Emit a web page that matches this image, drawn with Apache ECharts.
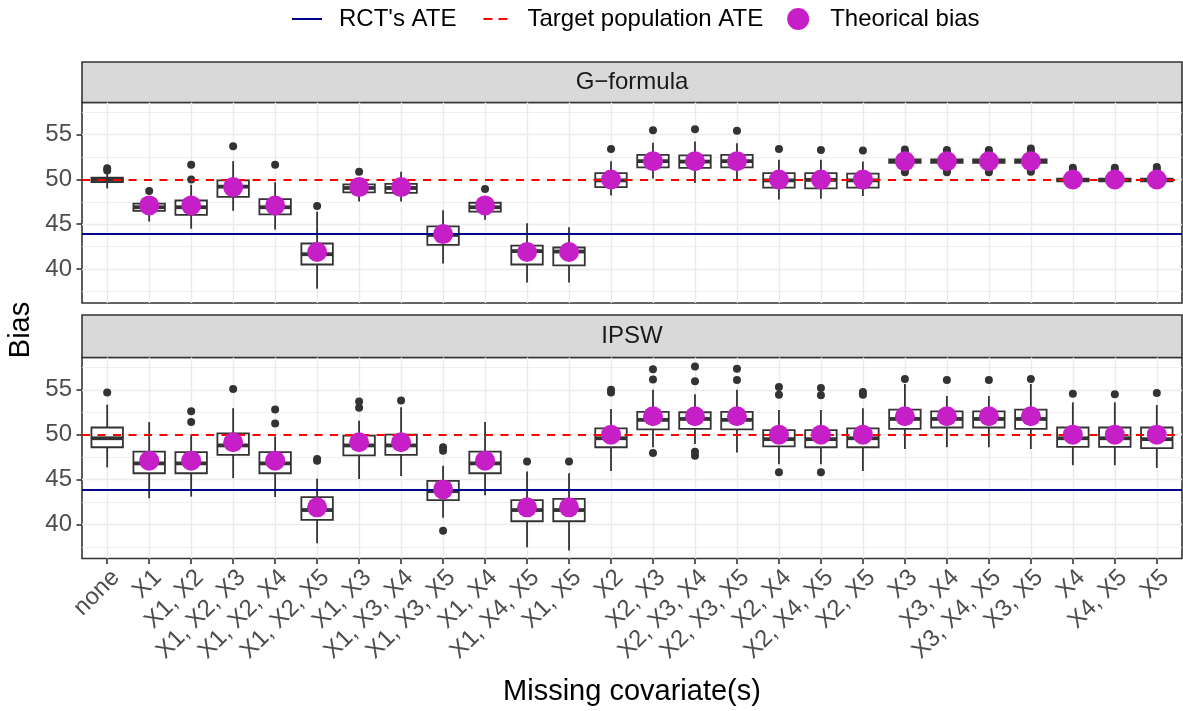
<!DOCTYPE html>
<html><head><meta charset="utf-8">
<script src="https://cdn.jsdelivr.net/npm/echarts@6/dist/echarts.min.js"></script>
<style>html,body{margin:0;padding:0;background:#fff}#c{width:1183px;height:711px}</style>
</head><body><div id="c"></div><script>
const categories = ['none','X1','X1, X2','X1, X2, X3','X1, X2, X4','X1, X2, X5','X1, X3','X1, X3, X4','X1, X3, X5','X1, X4','X1, X4, X5','X1, X5','X2','X2, X3','X2, X3, X4','X2, X3, X5','X2, X4','X2, X4, X5','X2, X5','X3','X3, X4','X3, X4, X5','X3, X5','X4','X4, X5','X5'];
const theoreticalBias = [null,47.1,47.1,49.15,47.1,41.9,49.15,49.15,43.9,47.1,41.9,41.9,50,52.05,52.05,52.05,50,50,50,52.05,52.05,52.05,52.05,50,50,50];
// [low whisker, q1, median, q3, high whisker]
const gformulaBox = [
  [49.0,49.7,49.95,50.2,50.7],[45.3,46.5,46.9,47.3,48.1],[44.5,46.05,46.9,47.65,49.4],[46.5,48.05,49.2,49.9,52.05],
  [44.4,46.1,46.9,47.8,49.7],[37.8,40.5,41.65,42.85,46.4],[47.55,48.55,49.05,49.45,50.2],[47.55,48.5,49.05,49.5,50.85],
  [40.6,42.7,43.8,44.75,46.55],[45.5,46.4,46.9,47.4,48.1],[38.5,40.5,42.0,42.6,45.1],[38.5,40.4,41.95,42.4,44.65],
  [48.2,49.15,49.9,50.7,52.05],[50.1,51.35,52.05,52.75,54.1],[49.6,51.3,52.0,52.7,54.25],[50.0,51.35,52.05,52.75,54.05],
  [47.75,49.1,49.9,50.7,52.2],[47.85,49.0,49.95,50.7,52.2],[48.15,49.1,49.9,50.65,52.0],
  [51.4,51.85,52.05,52.25,52.7],[51.4,51.85,52.05,52.25,52.7],[51.4,51.85,52.05,52.25,52.7],[51.4,51.85,52.05,52.25,52.75],
  [49.65,49.8,49.95,50.1,50.35],[49.65,49.8,49.95,50.1,50.35],[49.65,49.8,49.95,50.1,50.35]
];
const gformulaOutliers = [
  [51.0,51.25],[48.7],[50.0,51.65],[53.7],[51.65],[47.05],[50.85],[],[],[48.95],[],[],
  [53.4],[55.5],[55.6],[55.45],[53.4],[53.3],[53.25],
  [50.8,51.05,53.1,53.35],[50.8,51.05,53.1,53.3],[50.8,51.1,53.1,53.3],[50.85,51.1,53.15,53.45],
  [51.1,51.3],[51.1,51.3],[51.15,51.4]
];
const ipswBox = [
  [46.35,48.6,49.6,50.8,53.35],[42.9,45.7,46.8,48.1,51.4],[43.1,45.7,46.8,48.05,49.9],[45.15,47.75,48.8,50.15,52.95],
  [43.05,45.7,46.8,48.05,49.8],[37.9,40.5,41.6,43.05,45.1],[45.05,47.7,48.8,49.9,51.55],[45.4,47.75,48.8,50.0,53.05],
  [40.75,42.7,43.7,44.85,46.55],[43.25,45.7,46.8,48.1,51.4],[37.45,40.35,41.6,42.7,45.9],[37.1,40.35,41.6,42.85,45.7],
  [45.95,48.6,49.6,50.7,52.85],[48.6,50.6,51.65,52.55,55.0],[48.95,50.65,51.75,52.5,54.5],[48.0,50.6,51.65,52.55,55.0],
  [46.7,48.7,49.5,50.5,52.75],[46.7,48.6,49.5,50.5,52.75],[45.95,48.6,49.6,50.7,52.95],
  [48.4,50.65,51.75,52.8,55.65],[48.6,50.8,51.75,52.6,54.3],[48.6,50.8,51.75,52.6,54.3],[48.4,50.65,51.75,52.8,55.65],
  [46.6,48.65,49.6,50.8,53.6],[46.6,48.65,49.6,50.8,53.6],[46.3,48.5,49.5,50.8,53.3]
];
const ipswOutliers = [
  [54.7],[],[51.4,52.6],[55.1],[51.25,52.8],[47.1,47.3],[53.0,53.7],[53.8],[39.3,48.2,48.6],[],[47.0],[47.0],
  [54.7,55.0],[47.95,56.15,57.3],[47.65,48.1,55.95,57.6],[56.1,57.35],[45.8,54.45,55.3],[45.8,54.4,55.2],[54.45,54.75],
  [56.2],[56.1],[56.1],[56.2],
  [54.55],[54.5],[54.65]
];
const facetTitles = ['G\u2212formula','IPSW'];
const rctATE = 43.9;
const targetATE = 50;
const yTicks = [40,45,50,55];
const yMinor = [37.5,42.5,47.5,52.5,57.5];
const yMin = 36.2, yMax = 58.6;

const FONT = 'Liberation Sans, Arial, sans-serif';
const xIdx = categories.map((c,i)=>i+1);
const panels = [
  {top:102.5, height:200.5, strip:62, stripH:40.5, box:gformulaBox, out:gformulaOutliers},
  {top:357.5, height:201, strip:315, stripH:42.5, box:ipswBox, out:ipswOutliers}
];
const GL = 82, GW = 1100;

function renderBox(params, api){
  const x = api.value(0);
  const lo = api.coord([x, api.value(1)]);
  const q1 = api.coord([x, api.value(2)]);
  const md = api.coord([x, api.value(3)]);
  const q3 = api.coord([x, api.value(4)]);
  const hi = api.coord([x, api.value(5)]);
  const w = api.size([1,0])[0]*0.75;
  const ls = {stroke:'#333333', lineWidth:1.8};
  return {type:'group', children:[
    {type:'line', shape:{x1:lo[0],y1:lo[1],x2:q1[0],y2:q1[1]}, style:ls},
    {type:'line', shape:{x1:q3[0],y1:q3[1],x2:hi[0],y2:hi[1]}, style:ls},
    {type:'rect', shape:{x:md[0]-w/2, y:q3[1], width:w, height:q1[1]-q3[1]}, style:{fill:'#ffffff', stroke:'#333333', lineWidth:1.8}},
    {type:'line', shape:{x1:md[0]-w/2,y1:md[1],x2:md[0]+w/2,y2:md[1]}, style:{stroke:'#333333', lineWidth:3.8}}
  ]};
}

// legend keys as thin horizontal bars (solid and dashed)
const solidKey = 'path://M0,0 M30,22 M0,10 L30,10 L30,12 L0,12 Z';
const dashedKey = 'path://M0,0 M30,22 M3,10 L12,10 L12,12 L3,12 Z M18,10 L27,10 L27,12 L18,12 Z';

const grids=[], xAxes=[], yAxes=[], series=[], graphics=[];
panels.forEach((p,k)=>{
  grids.push({left:GL, top:p.top, width:GW, height:p.height, show:true, borderColor:'#333333', borderWidth:1.6, backgroundColor:'#ffffff'});
  const isBottom = k===panels.length-1;
  xAxes.push({
    type:'value', gridIndex:k, min:0.4, max:26.6, splitNumber:26,
    axisLine:{show:false}, splitLine:{show:false},
    axisTick:{show:isBottom, length:5.5, lineStyle:{color:'#333333', width:1.6}, customValues:xIdx},
    axisLabel:{show:isBottom, rotate:45, fontSize:24, color:'#4D4D4D', fontFamily:FONT, margin:7,
      align:'right', verticalAlign:'top', customValues:xIdx,
      formatter:v=>{const i=Math.round(v); return Math.abs(v-i)<1e-6 && i>=1 && i<=categories.length ? categories[i-1] : '';}},
    name: isBottom ? 'Missing covariate(s)' : '', nameLocation:'middle', nameGap:119,
    nameTextStyle:{fontSize:29, color:'#000', fontFamily:FONT}
  });
  yAxes.push({
    type:'value', gridIndex:k, min:yMin, max:yMax, splitNumber:5,
    axisLine:{show:false},
    axisTick:{show:true, length:5.5, lineStyle:{color:'#333333', width:1.6}, customValues:yTicks},
    axisLabel:{fontSize:24, color:'#4D4D4D', fontFamily:FONT, margin:10, customValues:yTicks,
      formatter:v=> yTicks.includes(v) ? String(v) : ''},
    splitLine:{show:true, lineStyle:{color:'#EBEBEB', width:1.4}}
  });
  series.push({type:'line', name:'_grid'+k, xAxisIndex:k, yAxisIndex:k, data:[], silent:true,
    markLine:{silent:true, z:1, symbol:'none', label:{show:false}, animation:false,
      lineStyle:{color:'#EBEBEB', width:1.4, type:'solid'},
      emphasis:{disabled:true},
      data: xIdx.map(v=>({xAxis:v})).concat(yMinor.map(v=>({yAxis:v, lineStyle:{color:'#EBEBEB', width:0.8, type:'solid'}})))}
  });
  series.push({type:'custom', name:'_box'+k, xAxisIndex:k, yAxisIndex:k, z:2, silent:true,
    renderItem:renderBox, encode:{x:0, y:[1,2,3,4,5]},
    data:p.box.map((b,i)=>[i+1].concat(b))});
  series.push({type:'scatter', name:'_out'+k, xAxisIndex:k, yAxisIndex:k, z:2, silent:true,
    symbolSize:8, itemStyle:{color:'#333333', opacity:1},
    data:p.out.flatMap((arr,i)=>arr.map(v=>[i+1,v]))});
  series.push({type:'line', name:"RCT's ATE", xAxisIndex:k, yAxisIndex:k, data:[], symbol:'none', color:'#00008B',
    lineStyle:{color:'#00008B', width:2},
    markLine:{silent:true, z:5, symbol:'none', label:{show:false}, animation:false,
      lineStyle:{color:'#00008B', width:2, type:'solid'}, data:[{yAxis:rctATE}]}});
  series.push({type:'line', name:'Target population ATE', xAxisIndex:k, yAxisIndex:k, data:[], symbol:'none', color:'#FF0000',
    lineStyle:{color:'#FF0000', width:2, type:[8,7.5]},
    markLine:{silent:true, z:5, symbol:'none', label:{show:false}, animation:false,
      lineStyle:{color:'#FF0000', width:2, type:[8,7.5]}, data:[{yAxis:targetATE}]}});
  series.push({type:'scatter', name:'Theorical bias', xAxisIndex:k, yAxisIndex:k, z:10, silent:true,
    symbolSize:20, color:'#C71FC7', itemStyle:{color:'#C71FC7', opacity:1},
    data:theoreticalBias.map((v,i)=>[i+1,v]).filter(d=>d[1]!==null)});
  graphics.push({type:'rect', shape:{x:GL, y:p.strip, width:GW, height:p.stripH}, style:{fill:'#D9D9D9', stroke:'#333333', lineWidth:1.6}});
  graphics.push({type:'text', x:GL+GW/2, y:p.strip+p.stripH/2, style:{text:facetTitles[k], fontSize:24, fill:'#1A1A1A', fontFamily:FONT, textAlign:'center', textVerticalAlign:'middle'}});
});
graphics.push({type:'text', x:21, y:330, rotation:Math.PI/2, style:{text:'Bias', fontSize:29, fill:'#000', fontFamily:FONT, textAlign:'center', textVerticalAlign:'middle'}});

const chart = echarts.init(document.getElementById('c'), null, {renderer:'canvas'});
chart.setOption({
  animation:false,
  backgroundColor:'#ffffff',
  textStyle:{fontFamily:FONT},
  legend:{
    data:[{name:"RCT's ATE", icon:solidKey},{name:'Target population ATE', icon:dashedKey},{name:'Theorical bias', icon:'circle'}],
    left:287, top:2, itemWidth:30, itemHeight:22, itemGap:24, selectedMode:false,
    textStyle:{fontSize:24, color:'#000', fontFamily:FONT, padding:[0,0,0,12]}
  },
  grid:grids, xAxis:xAxes, yAxis:yAxes, series:series, graphic:graphics
});
</script></body></html>
